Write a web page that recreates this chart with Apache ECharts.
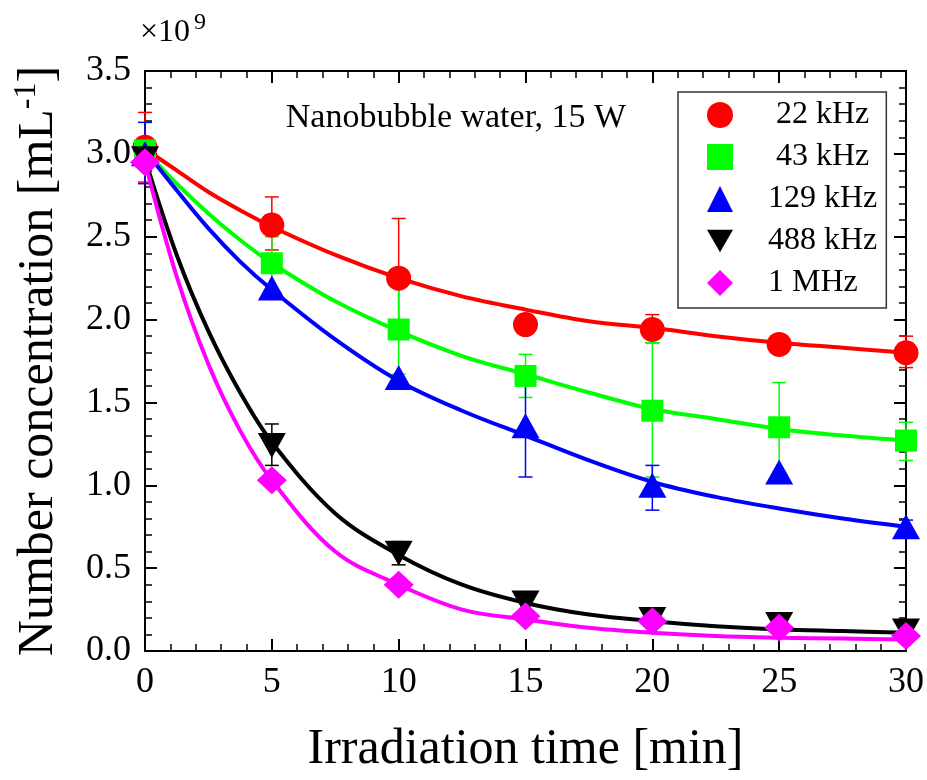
<!DOCTYPE html>
<html>
<head>
<meta charset="utf-8">
<script src="https://cdn.jsdelivr.net/npm/echarts@6/dist/echarts.min.js"></script>
<style>
  html, body { margin: 0; padding: 0; background: #fff; }
  #chart { width: 927px; height: 780px; }
</style>
</head>
<body>
<div id="chart"></div>
<script>
// Sampling times of the measurements [min]
const time = [0, 5, 10, 15, 20, 25, 30];

// Measured number concentrations (×10^9 mL^-1)
const conc22k  = [3.04, 2.57, 2.25, 1.97, 1.94, 1.85, 1.80];
const conc43k  = [3.02, 2.34, 1.94, 1.66, 1.45, 1.35, 1.27];
const conc129k = [3.00, 2.19, 1.65, 1.36, 1.00, 1.08, 0.75];
const conc488k = [2.97, 1.24, 0.59, 0.29, 0.19, 0.16, 0.12];
const conc1M   = [2.95, 1.03, 0.40, 0.21, 0.18, 0.14, 0.09];

// Error bar ranges [low, high]; null where no bar is shown
const err22k  = [[2.83, 3.25], [2.42, 2.74], [1.90, 2.61], null, [1.86, 2.03], null, [1.71, 1.90]];
const err43k  = [null, [2.18, 2.50], [1.67, 2.21], [1.53, 1.79], [1.05, 1.86], [1.08, 1.62], [1.15, 1.38]];
const err129k = [[2.82, 3.19], null, null, [1.05, 1.63], [0.85, 1.12], null, [0.71, 0.79]];
const err488k = [null, [1.12, 1.37], [0.52, 0.66], null, null, null, null];
const err1M   = [null, null, null, null, null, null, null];

// Fitted decay curves
const fitTime = [0, 1.25, 2.5, 3.75, 5, 7.5, 10, 12.5, 15, 17.5, 20, 22.5, 25, 27.5, 30];
const fit22k  = [3.03, 2.90, 2.77, 2.66, 2.56, 2.39, 2.25, 2.14, 2.06, 1.99, 1.95, 1.90, 1.86, 1.83, 1.80];
const fit43k  = [3.02, 2.82, 2.64, 2.48, 2.34, 2.11, 1.93, 1.78, 1.67, 1.56, 1.46, 1.40, 1.34, 1.30, 1.27];
const fit129k = [3.02, 2.78, 2.55, 2.35, 2.18, 1.88, 1.63, 1.45, 1.30, 1.15, 1.02, 0.93, 0.86, 0.80, 0.75];
const fit488k = [2.97, 2.39, 1.93, 1.56, 1.26, 0.83, 0.58, 0.40, 0.29, 0.22, 0.18, 0.15, 0.13, 0.12, 0.11];
const fit1M   = [2.95, 2.26, 1.73, 1.33, 1.03, 0.60, 0.40, 0.25, 0.19, 0.14, 0.11, 0.09, 0.08, 0.075, 0.07];

// Axis ticks
const xTicks = { min: 0, max: 30, interval: 5 };
const yTicks = { min: 0, max: 3.5, interval: 0.5 };

const FONT = 'Liberation Serif';
const downTriangle = 'path://M0,0L10,0L5,8.6Z';

const groups = [
  { name: '22 kHz',  label: ' 22 kHz', color: '#ff0000', symbol: 'circle',   size: 25,       y: conc22k,  err: err22k,  fit: fit22k },
  { name: '43 kHz',  label: ' 43 kHz', color: '#00ff00', symbol: 'rect',     size: 22,       y: conc43k,  err: err43k,  fit: fit43k },
  { name: '129 kHz', label: '129 kHz', color: '#0000ff', symbol: 'triangle', size: [28, 25], y: conc129k, err: err129k, fit: fit129k },
  { name: '488 kHz', label: '488 kHz', color: '#000000', symbol: downTriangle, size: [28, 25], y: conc488k, err: err488k, fit: fit488k },
  { name: '1 MHz',   label: '1 MHz',   color: '#ff00ff', symbol: 'diamond',  size: [30, 28], y: conc1M,   err: err1M,   fit: fit1M }
];

const series = [];

// error bars
groups.forEach(g => {
  const data = [];
  g.err.forEach((e, i) => { if (e) data.push([time[i], e[0], e[1]]); });
  series.push({
    type: 'custom',
    name: g.name + ' error',
    z: 2,
    data: data,
    renderItem: function (params, api) {
      const lo = api.coord([api.value(0), api.value(1)]);
      const hi = api.coord([api.value(0), api.value(2)]);
      const cap = 7;
      const st = { stroke: g.color, lineWidth: 1.5 };
      return {
        type: 'group',
        children: [
          { type: 'line', shape: { x1: lo[0], y1: lo[1], x2: hi[0], y2: hi[1] }, style: st },
          { type: 'line', shape: { x1: hi[0] - cap, y1: hi[1], x2: hi[0] + cap, y2: hi[1] }, style: st },
          { type: 'line', shape: { x1: lo[0] - cap, y1: lo[1], x2: lo[0] + cap, y2: lo[1] }, style: st }
        ]
      };
    },
    encode: { x: 0, y: [1, 2] },
    silent: true
  });
});

// fit curves
groups.forEach(g => {
  series.push({
    type: 'line',
    name: g.name + ' fit',
    z: 3,
    data: fitTime.map((t, i) => [t, g.fit[i]]),
    smooth: 0.35,
    showSymbol: false,
    symbol: 'none',
    lineStyle: { color: g.color, width: 4 },
    silent: true
  });
});

// measured points
groups.forEach(g => {
  series.push({
    type: 'scatter',
    name: g.name,
    z: 4,
    data: time.map((t, i) => [t, g.y[i]]),
    symbol: g.symbol,
    symbolSize: g.size,
    itemStyle: { color: g.color, opacity: 1 },
    clip: false
  });
});

// tick labels rendered through a rich style so the serif face is applied
const tickRich = { t: { fontFamily: FONT, fontSize: 36, color: '#000', fontWeight: 'normal' } };
const axisLineStyle = { color: '#000', width: 2 };

function makeAxis(cfg, extra) {
  return Object.assign({
    type: 'value',
    min: cfg.min, max: cfg.max, interval: cfg.interval,
    axisLine: { show: true, onZero: false, lineStyle: axisLineStyle },
    axisTick: { show: true, inside: true, length: 12, lineStyle: { color: '#000', width: 2 } },
    minorTick: { show: true, splitNumber: 5, length: 7, lineStyle: { color: '#000', width: 1.5 } },
    splitLine: { show: false },
    minorSplitLine: { show: false }
  }, extra);
}

const option = {
  animation: false,
  backgroundColor: '#fff',
  textStyle: { fontFamily: FONT },
  title: [
    {
      text: '×10',
      left: 140, top: 17,
      padding: 0,
      textStyle: { fontFamily: FONT, fontWeight: 'normal', fontSize: 32, color: '#000' }
    },
    {
      text: '9',
      left: 194, top: 11,
      padding: 0,
      textStyle: { fontFamily: FONT, fontWeight: 'normal', fontSize: 24, color: '#000' }
    }
  ],
  grid: { left: 145, right: 20, top: 71, bottom: 126, containLabel: false },
  xAxis: [
    makeAxis(xTicks, {
      position: 'bottom',
      name: 'Irradiation time [min]',
      nameLocation: 'middle',
      nameGap: 74,
      nameTextStyle: { fontFamily: FONT, fontSize: 50, color: '#000', verticalAlign: 'top' },
      axisLabel: { margin: 14, fontFamily: FONT, fontSize: 36, color: '#000',
                   formatter: v => '{t|' + v + '}', rich: tickRich }
    }),
    makeAxis(xTicks, { position: 'top', axisLabel: { show: false } })
  ],
  yAxis: [
    makeAxis(yTicks, {
      position: 'left',
      name: '{a|Number concentration [mL}{s|-1}{a|]}',
      nameLocation: 'middle',
      nameGap: 78,
      nameTextStyle: {
        rich: {
          a: { fontFamily: FONT, fontSize: 50, color: '#000', lineHeight: 56 },
          s: { fontFamily: FONT, fontSize: 32, color: '#000', lineHeight: 24, verticalAlign: 'top' }
        }
      },
      axisLabel: { margin: 14, fontFamily: FONT, fontSize: 36, color: '#000',
                   formatter: v => '{t|' + v.toFixed(1) + '}', rich: tickRich }
    }),
    makeAxis(yTicks, { position: 'right', axisLabel: { show: false } })
  ],
  legend: {
    data: groups.map(g => g.name),
    orient: 'vertical',
    left: 678, top: 92,
    backgroundColor: '#fff',
    borderColor: '#333',
    borderWidth: 1.5,
    borderRadius: 0,
    padding: [7, 9, 9, 29],
    itemWidth: 26,
    itemHeight: 26,
    itemGap: 10,
    formatter: name => groups.find(g => g.name === name).label,
    textStyle: { fontFamily: FONT, fontSize: 32, color: '#000', lineHeight: 32, padding: [0, 0, 0, 30] }
  },
  graphic: [{
    type: 'text',
    x: 456, y: 118,
    style: {
      text: 'Nanobubble water, 15 W',
      fontFamily: FONT, fontSize: 34, fill: '#000',
      textAlign: 'center', textVerticalAlign: 'middle'
    },
    z: 10
  }],
  series: series
};

const chart = echarts.init(document.getElementById('chart'), null, { renderer: 'canvas' });
chart.setOption(option);
</script>
</body>
</html>
